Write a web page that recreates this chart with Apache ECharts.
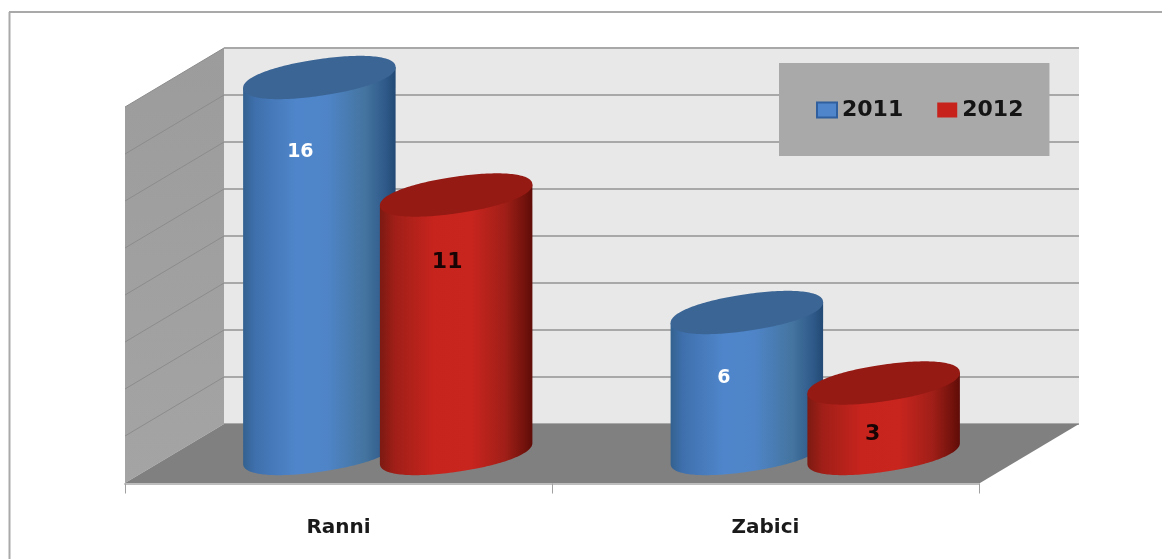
<!DOCTYPE html>
<html>
<head>
<meta charset="utf-8">
<style>html,body{margin:0;padding:0;background:#fff}#c{width:1162px;height:559px}</style>
<script src="https://cdn.jsdelivr.net/npm/echarts@6/dist/echarts.min.js"></script>
</head>
<body>
<div id="c"></div>
<script>
const categories = ['Ranni', 'Zabici'];
const values2011 = [16, 6];
const values2012 = [11, 3];
const yMin = 0, yMax = 16, yStep = 2;
const yTicks = [0, 2, 4, 6, 8, 10, 12, 14, 16];

const FONT = '"DejaVu Sans", Verdana, sans-serif';
const DEPTH_X = -99, DEPTH_Y = 59;
const BAR_DX = -50, BAR_DY = 29.5;
const BAND_OFFSET = 0.16;
const A = 77, B = 18.2, TH = 8.4 * Math.PI / 180, ROUND = 2.15;

function spow(v) { return Math.sign(v) * Math.pow(Math.abs(v), 2 / ROUND); }
function ellipsePt(cx, cy, t) {
  const c = A * spow(Math.cos(t)), s = B * spow(Math.sin(t));
  return [cx + c * Math.cos(TH) - s * Math.sin(TH), cy - (c * Math.sin(TH) + s * Math.cos(TH))];
}
function outline(cx, cy) {
  const pts = [];
  for (let i = 0; i < 180; i++) pts.push(ellipsePt(cx, cy, Math.PI * 2 * i / 180));
  return pts;
}
// lower half of the outline, from its rightmost point round to its leftmost point
function lowerArc(cx, cy) {
  const pts = outline(cx, cy);
  let r = 0, l = 0;
  pts.forEach((p, i) => { if (p[0] > pts[r][0]) r = i; if (p[0] < pts[l][0]) l = i; });
  const arc = [];
  for (let i = r; ; i = (i + 179) % 180) { arc.push(pts[i]); if (i === l) break; }
  return arc;
}
function hGrad(stops) {
  return { type: 'linear', x: 0, y: 0, x2: 1, y2: 0,
    colorStops: stops.map(s => ({ offset: s[0], color: s[1] })) };
}
function cylinder(side, bodyStops, capColor, labelColor, labelSize, labelShift) {
  return function (params, api) {
    const band = api.size([1, 0])[0];
    const p = api.coord([api.value(0), api.value(1)]);
    const z = api.coord([api.value(0), 0]);
    const cx = p[0] + BAR_DX + side * BAND_OFFSET * band;
    const topY = p[1] + BAR_DY, baseY = z[1] + BAR_DY;
    const base = lowerArc(cx, baseY);
    const top = lowerArc(cx, topY);
    const body = base.concat([top[top.length - 1], top[0]]);
    const shift = labelShift[params.dataIndex];
    return {
      type: 'group',
      children: [
        { type: 'polygon', shape: { points: body }, style: { fill: hGrad(bodyStops) } },
        { type: 'polygon', shape: { points: outline(cx, topY) }, style: { fill: capColor } },
        { type: 'text', z2: 10, style: {
            x: cx + shift[0], y: topY + shift[1], text: String(api.value(1)),
            fill: labelColor, font: 'bold ' + labelSize + 'px ' + FONT, align: 'center', verticalAlign: 'middle' } }
      ]
    };
  };
}
function wallItem(params, api) {
  const r = params.coordSys;
  const t = api.value(1);
  const y = api.coord([0, t])[1];
  const children = [];
  const bottom = r.y + r.height, right = r.x + r.width;
  if (t === yMin) {
    children.push({ type: 'polygon', shape: { points: [
      [r.x, r.y], [r.x, bottom], [r.x + DEPTH_X, bottom + DEPTH_Y], [r.x + DEPTH_X, r.y + DEPTH_Y]
    ] }, style: { fill: { type: 'linear', x: 0, y: 0, x2: 0, y2: 1, colorStops: [
      { offset: 0, color: '#9c9c9c' }, { offset: 1, color: '#a4a4a4' } ] } } });
    children.push({ type: 'polygon', shape: { points: [
      [r.x, bottom], [right, bottom], [right + DEPTH_X, bottom + DEPTH_Y], [r.x + DEPTH_X, bottom + DEPTH_Y]
    ] }, style: { fill: '#808080' } });
  } else {
    children.push({ type: 'line', shape: { x1: r.x, y1: y, x2: r.x + DEPTH_X, y2: y + DEPTH_Y },
      style: { stroke: '#8c8c8c', lineWidth: 1 } });
  }
  return { type: 'group', children };
}
const toPairs = arr => arr.map((v, i) => [i, v]);

const blueStops = [[0, '#33618f'], [0.08, '#3f70ad'], [0.35, '#4f86cb'], [0.55, '#4f85c8'], [0.8, '#44749f'], [0.93, '#2f5a8a'], [1, '#234a75']];
const redStops = [[0, '#7c1a12'], [0.1, '#a01f18'], [0.35, '#c6241d'], [0.6, '#c8251e'], [0.82, '#a01f18'], [0.95, '#73120c'], [1, '#5e0c08']];

const chart = echarts.init(document.getElementById('c'), null, { renderer: 'canvas' });
chart.setOption({
  animation: false,
  backgroundColor: '#ffffff',
  graphic: [
    { type: 'line', z: 0, shape: { x1: 9, y1: 12, x2: 1162, y2: 12 }, style: { stroke: '#a9a9a9', lineWidth: 2 } },
    { type: 'line', z: 0, shape: { x1: 9.5, y1: 12, x2: 9.5, y2: 559 }, style: { stroke: '#a9a9a9', lineWidth: 2 } }
  ],
  grid: [
    { left: 224, top: 48, width: 855, height: 376, show: true, backgroundColor: '#e8e8e8', borderWidth: 0 },
    { left: 125, top: 400, width: 854, height: 83.5 }
  ],
  xAxis: [
    { type: 'category', gridIndex: 0, data: categories, show: false },
    { type: 'category', gridIndex: 1, data: categories,
      axisLine: { show: true, lineStyle: { color: '#bdbdbd', width: 2 } },
      axisTick: { show: true, length: 10, lineStyle: { color: '#a0a0a0', width: 1 } },
      axisLabel: { margin: 34, color: '#1a1a1a', fontFamily: FONT, fontWeight: 'bold', fontSize: 20 } }
  ],
  yAxis: [
    { type: 'value', gridIndex: 0, min: yMin, max: yMax, interval: yStep,
      axisLine: { show: false }, axisTick: { show: false }, axisLabel: { show: false },
      splitLine: { show: true, lineStyle: { color: '#a8a8a8', width: 2 } } },
    { type: 'value', gridIndex: 1, show: false, min: 0, max: 1, splitLine: { show: false } }
  ],
  legend: {
    data: ['2011', '2012'], left: 779, top: 63, orient: 'horizontal',
    padding: [36, 26, 35, 37],
    backgroundColor: '#a9a9a9',
    itemWidth: 20, itemHeight: 15, itemGap: 34,
    textStyle: { color: '#141414', fontFamily: FONT, fontWeight: 'bold', fontSize: 22 },
    icon: 'rect'
  },
  series: [
    { type: 'custom', name: 'walls', z: 1, silent: true, xAxisIndex: 0, yAxisIndex: 0,
      renderItem: wallItem, data: yTicks.map(t => [0, t]), encode: { x: 0, y: 1 } },
    { type: 'custom', name: '2011', z: 3, xAxisIndex: 0, yAxisIndex: 0,
      itemStyle: { color: '#4f86cb', borderColor: '#2f5f9e', borderWidth: 1 },
      renderItem: cylinder(-1, blueStops, '#3b6595', '#ffffff', 19, [[-19, 75], [-23, 66]]),
      data: toPairs(values2011), encode: { x: 0, y: 1 } },
    { type: 'custom', name: '2012', z: 3, xAxisIndex: 0, yAxisIndex: 0,
      itemStyle: { color: '#c8221c' },
      renderItem: cylinder(1, redStops, '#951a14', '#180404', 22, [[-9, 67.5], [-11, 51.5]]),
      data: toPairs(values2012), encode: { x: 0, y: 1 } }
  ]
});
</script>
</body>
</html>
